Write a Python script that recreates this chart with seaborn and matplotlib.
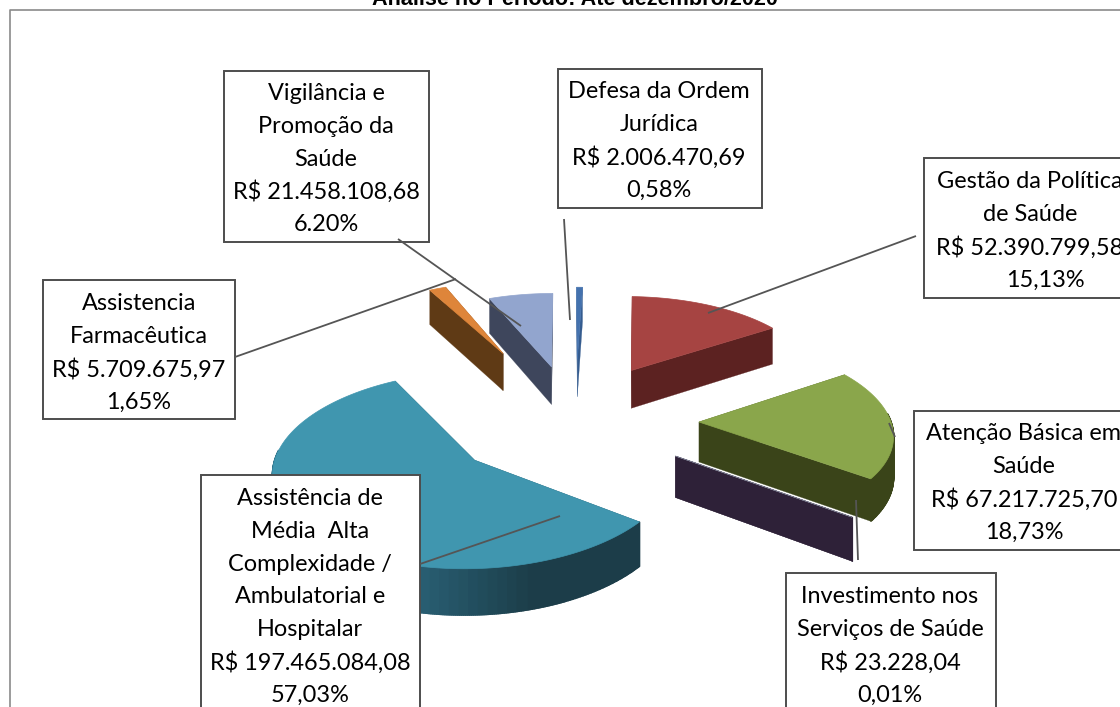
import numpy as np
import matplotlib
matplotlib.use("Agg")
import matplotlib.pyplot as plt
from matplotlib.patches import Rectangle
import seaborn as sns

# dados do grafico, em sentido horario a partir do topo
categories = ["Defesa", "Gestao", "Atencao", "Investimento", "Media Alta", "Farmaceutica", "Vigilancia"]
values = [2006470.69, 52390799.58, 67217725.70, 23228.04, 197465084.08, 5709675.97, 21458108.68]

label_lines = [
    ["Defesa da Ordem", "Jurídica", "R$ 2.006.470,69", "0,58%"],
    ["Gestão da Política", "de Saúde", "R$ 52.390.799,58", "15,13%"],
    ["Atenção Básica em", "Saúde", "R$ 67.217.725,70", "18,73%"],
    ["Investimento nos", "Serviços de Saúde", "R$ 23.228,04", "0,01%"],
    ["Assistência de", "Média  Alta", "Complexidade /", "Ambulatorial e", "Hospitalar", "R$ 197.465.084,08", "57,03%"],
    ["Assistencia", "Farmacêutica", "R$ 5.709.675,97", "1,65%"],
    ["Vigilância e", "Promoção da", "Saúde", "R$ 21.458.108,68", "6.20%"],
]
title = "Análise no Período: Até dezembro/2020"

# cores (topo e lateral)
top_colors = sns.color_palette(["#4472AE", "#A64442", "#8AA64B", "#77778A", "#4096AF", "#DE853A", "#92A5CE"])
side_colors = sns.color_palette(["#355C8F", "#5C2221", "#3A4419", "#2E2138", "#1C3D49", "#5F3A15", "#3E465C"])
wall_ramp = sns.blend_palette(["#2E6F86", "#2A6378", "#1C3D49", "#1C3D49"], 40)

# explosao de cada fatia (distancia, direcao em graus)
explode = [143, 134, 131, 125, 119, 172, 126]
explode_dir = [4, 30, 90, 124, 229, -24, -8]

# caixas: x0, y0, x1, y1, centro do texto, y da primeira linha
boxes = [
    (558, 69, 762, 208, 659, 90),
    (924, 158, 1140, 298, 1030, 180),
    (914, 411, 1140, 550, 1024, 432),
    (786, 573, 996, 725, 890, 595),
    (201, 475, 420, 725, 310, 497),
    (43, 280, 235, 419, 139, 302),
    (224, 71, 429, 242, 326, 92),
]
leaders = [
    [(564, 219), (570, 320)],
    [(916, 236), (708, 313)],
    [(889, 423), (895, 437)],
    [(856, 500), (858, 560)],
    [(420, 564), (560, 516)],
    [(235, 357), (456, 279)],
    [(398, 239), (521, 326)],
]

X0, Y0 = 568, 422
RADIUS = 192
SQUASH = 0.47
PERSP = 0.0005
DEPTH = 40


def project(wx, wy, wz=0):
    # perspectiva simples: o que esta longe fica menor
    f = 1 / (1 + PERSP * np.asarray(wy, dtype=float))
    return X0 + f * np.asarray(wx), Y0 - f * SQUASH * np.asarray(wy) + f * wz


def face(ax, wx, wy, color, lw=0.4):
    # parede vertical a partir de uma linha no plano do topo
    xa, ya = project(wx, wy)
    xb, yb = project(wx, wy, DEPTH)
    ax.fill(np.r_[xa, xb[::-1]], np.r_[ya, yb[::-1]], color=color, lw=lw)


def draw_slice(ax, a0, a1, i):
    d = np.radians(explode_dir[i])
    cx, cy = explode[i] * np.sin(d), explode[i] * np.cos(d)
    pts = np.radians(np.linspace(a0, a1, max(int(a1 - a0) * 2, 2)))
    ox = cx + RADIUS * np.sin(pts)
    oy = cy + RADIUS * np.cos(pts)

    # faces radiais, a mais distante primeiro
    radial = [(ox[0], oy[0]), (ox[-1], oy[-1])]
    radial.sort(key=lambda p: -p[1])
    for px, py in radial:
        face(ax, [cx, px], [cy, py], side_colors[i], lw=0.2)

    # parede externa, so a parte virada para a frente
    for k in range(len(pts) - 1):
        if np.cos(pts[k]) > 0.1:
            continue
        if categories[i] == "Media Alta":
            t = np.clip((np.sin(pts[k]) + 0.85) / 1.7, 0, 1)
            c = wall_ramp[int(t * (len(wall_ramp) - 1))]
        else:
            c = side_colors[i]
        face(ax, ox[k:k + 2], oy[k:k + 2], c, lw=1.2)

    tx, ty = project(np.r_[cx, ox], np.r_[cy, oy])
    ax.fill(tx, ty, color=top_colors[i], lw=0.5)


sns.set_theme(style="white")
plt.rcParams["font.family"] = ["Lato", "DejaVu Sans"]

fig = plt.figure(figsize=(11.2, 7.07), dpi=100)
ax = fig.add_axes([0, 0, 1, 1])
ax.set_xlim(0, 1120)
ax.set_ylim(707, 0)
ax.axis("off")

# moldura do grafico
ax.plot([10, 10, 1120], [707, 10, 10], color="#8a8a8a", lw=1.2)
ax.text(575, 5, title, ha="center", va="baseline", fontsize=15.6, fontweight="bold",
        family=["Liberation Sans", "DejaVu Sans"], color="black")

# angulos das fatias saem dos valores
shares = np.array(values) / np.sum(values)
ends = np.cumsum(shares) * 360
starts = np.r_[0, ends[:-1]]

for i in [0, 6, 5, 1, 2, 3, 4]:
    draw_slice(ax, starts[i], ends[i], i)

for seg in leaders:
    ax.plot(*zip(*seg), color="#555555", lw=1.3, solid_capstyle="butt", zorder=7)

LINE_H = 32.8
for (x0, y0, x1, y1, xc, yt), lines in zip(boxes, label_lines):
    ax.add_patch(Rectangle((x0, y0), x1 - x0, y1 - y0, fc="white", ec="#4d4d4d", lw=1.4, zorder=5))
    for n, line in enumerate(lines):
        # na caixa de Gestao o percentual fica deslocado, como no original
        xt = 1045 if line == "15,13%" else xc
        ax.text(xt, yt + 1.5 + n * LINE_H, line, ha="center", va="center", fontsize=16.9,
                color="black", zorder=6)

sns.despine(ax=ax, left=True, bottom=True)
fig.savefig("out.png", dpi=100)
